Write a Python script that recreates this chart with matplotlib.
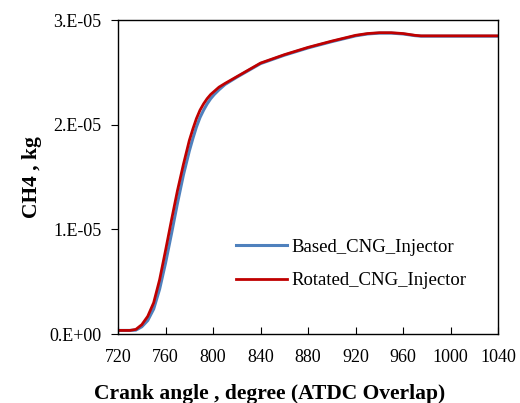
import numpy as np
import matplotlib.pyplot as plt

# crank angle (deg, ATDC overlap)
crank = [720, 730, 735, 740, 745, 750, 755, 760, 765, 770, 775, 780, 783, 786, 789,
         792, 795, 798, 801, 805, 810, 820, 830, 840, 860, 880, 900, 920, 930, 940,
         950, 960, 970, 975, 1000, 1040]

# in-cylinder CH4 mass, 1e-6 kg
based = [0.35, 0.35, 0.38, 0.7, 1.3, 2.4, 4.3, 6.8, 9.6, 12.5, 15.2, 17.5, 18.7, 19.8, 20.7,
         21.4, 22.0, 22.5, 22.9, 23.35, 23.85, 24.55, 25.2, 25.85, 26.65, 27.35, 27.95,
         28.5, 28.68, 28.76, 28.76, 28.68, 28.52, 28.47, 28.47, 28.47]
rotated = [0.35, 0.35, 0.45, 0.9, 1.7, 3.0, 5.2, 8.0, 10.9, 13.7, 16.2, 18.5, 19.6, 20.6, 21.4,
           22.0, 22.5, 22.9, 23.2, 23.6, 23.95, 24.6, 25.25, 25.9, 26.7, 27.4, 28.0,
           28.55, 28.72, 28.8, 28.8, 28.72, 28.55, 28.5, 28.5, 28.5]

crank = np.array(crank)
based = np.array(based) * 1e-6
rotated = np.array(rotated) * 1e-6

plt.rcParams['font.family'] = 'Liberation Serif'

fig = plt.figure(figsize=(5.2, 4.03), dpi=100)
ax = fig.add_axes([0.227, 0.171, 0.731, 0.779])

ax.plot(crank, based, color='#4f81bd', lw=2.2, label='Based_CNG_Injector')
ax.plot(crank, rotated, color='#c00000', lw=2.0, label='Rotated_CNG_Injector')

ax.set_xlim(720, 1040)
ax.set_ylim(0, 3e-5)
ax.set_xticks(np.arange(720, 1041, 40))
ax.set_yticks([0, 1e-5, 2e-5, 3e-5])
ax.set_yticklabels(['0.E+00', '1.E-05', '2.E-05', '3.E-05'])
ax.tick_params(axis='x', direction='in', length=5, labelsize=13, pad=11)
ax.tick_params(axis='y', direction='out', length=5, labelsize=13, pad=7)

for s in ax.spines.values():
    s.set_linewidth(1.0)
    s.set_color('black')

ax.set_xlabel('Crank angle , degree (ATDC Overlap)', fontsize=15.5, fontweight='bold')
ax.xaxis.set_label_coords(0.4, -0.158)
ax.set_ylabel('CH4 , kg', fontsize=15.5, fontweight='bold')
ax.yaxis.set_label_coords(-0.2, 0.5)

ax.legend(loc='upper left', bbox_to_anchor=(0.31, 0.304), frameon=False, fontsize=13.5,
          borderpad=0, borderaxespad=0, handlelength=2.7, handletextpad=0.27,
          labelspacing=0.87)

fig.savefig('out.png', dpi=100)
